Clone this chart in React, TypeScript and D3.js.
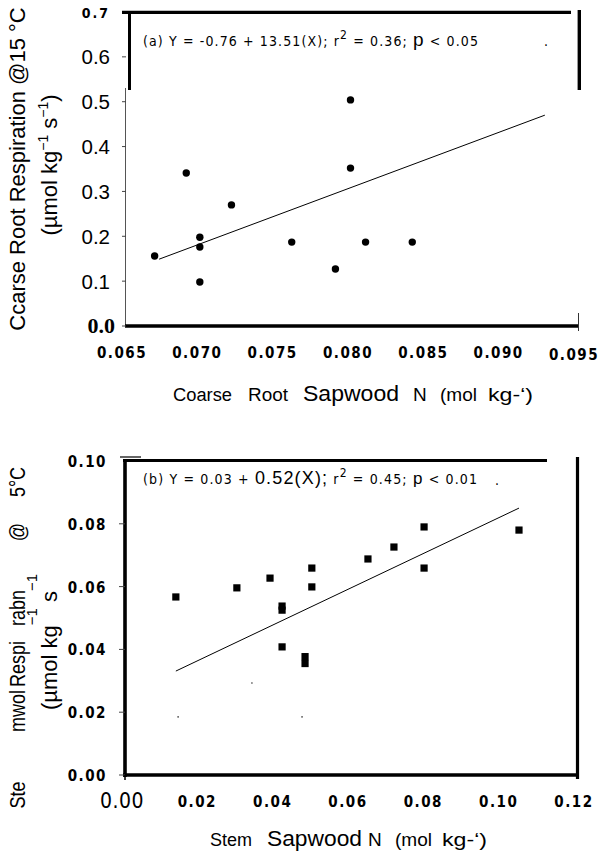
import React from "react";
import * as d3 from "d3";

// ---------- Panel (a) data ----------
const aSapwoodN = [0.0669, 0.069, 0.0699, 0.0699, 0.0699, 0.072, 0.076, 0.0789, 0.0799, 0.0799, 0.0809, 0.084];
const aResp = [0.156, 0.341, 0.198, 0.176, 0.098, 0.27, 0.187, 0.127, 0.504, 0.352, 0.187, 0.187];
const aFitX = [0.0672, 0.0928];
const aFitY = [0.149, 0.47];
const aXTicks = [0.065, 0.07, 0.075, 0.08, 0.085, 0.09, 0.095];
const aXTickLabels = ["0.065", "0.070", "0.075", "0.080", "0.085", "0.090", "0.095"];
const aYTicks = [0, 0.1, 0.2, 0.3, 0.4, 0.5, 0.6, 0.7];
const aYTickLabels = ["0.0", "0.1", "0.2", "0.3", "0.4", "0.5", "0.6", "0.7"];

// ---------- Panel (b) data ----------
const bSapwoodN = [0.0135, 0.0297, 0.0385, 0.0417, 0.0417, 0.0417, 0.0478, 0.0478, 0.0496, 0.0496, 0.0645, 0.0714, 0.0794, 0.0794, 0.1046];
const bResp = [0.0567, 0.0596, 0.0627, 0.0538, 0.0525, 0.0408, 0.0377, 0.0355, 0.0659, 0.0599, 0.0688, 0.0726, 0.079, 0.0659, 0.078];
const bFitX = [0.0135, 0.1046];
const bFitY = [0.0331, 0.085];
const bSpeckX = [0.0141, 0.0337, 0.047];
const bSpeckY = [0.0185, 0.0293, 0.0185];
const bXTicks = [0, 0.02, 0.04, 0.06, 0.08, 0.1, 0.12];
const bXTickLabels = ["0.00", "0.02", "0.04", "0.06", "0.08", "0.10", "0.12"];
const bYTicks = [0, 0.02, 0.04, 0.06, 0.08, 0.1];
const bYTickLabels = ["0.00", "0.02", "0.04", "0.06", "0.08", "0.10"];
const bYTitleWords = ["Ste", "mwol", "Respi", "rabn", "@", "5°C"];

const COND = "'DejaVu Sans Condensed', 'Liberation Sans Narrow', 'DejaVu Sans', sans-serif";
const ARIAL = "'Liberation Sans', Arial, sans-serif";
const SERIF = "'Liberation Serif', 'DejaVu Serif', serif";

// screen-y centre of each word of the panel (b) y title
const bWordCentres = [795, 711, 664, 608, 532, 482];
const bSqueeze = 0.82;

export default function App() {
  const ax = d3.scaleLinear().domain([0.065, 0.095]).range([126, 578]);
  const ay = d3.scaleLinear().domain([0, 0.7]).range([326, 12]);
  const bx = d3.scaleLinear().domain([0, 0.12]).range([125, 577]);
  const by = d3.scaleLinear().domain([0, 0.1]).range([775, 461]);

  const line = d3.line<[number, number]>();
  const aFit = line(aFitX.map((x, i) => [ax(x), ay(aFitY[i])] as [number, number])) || "";
  const bFit = line(bFitX.map((x, i) => [bx(x), by(bFitY[i])] as [number, number])) || "";

  return (
    <svg
      width={598}
      height={854}
      style={{ position: "absolute", left: 0, top: 0, background: "#fff" }}
      xmlns="http://www.w3.org/2000/svg"
    >
      <rect x={0} y={0} width={598} height={854} fill="#fff" />

      {/* ================= Panel (a) ================= */}
      <line x1={122} x2={571} y1={12.3} y2={12.3} stroke="#000" strokeWidth={3.3} />
      <line x1={129.5} x2={129.5} y1={11} y2={90} stroke="#000" strokeWidth={3} />
      <line x1={579.3} x2={579.3} y1={10} y2={90} stroke="#000" strokeWidth={3.4} />
      <line x1={125.5} x2={125.5} y1={88} y2={326} stroke="#555" strokeWidth={1} />
      <line x1={125} x2={578} y1={ay(0)} y2={ay(0)} stroke="#000" strokeWidth={3.3} />
      <line x1={578.5} x2={578.5} y1={313} y2={331} stroke="#333" strokeWidth={1} />
      {aYTicks.slice(0, 7).map((t) => (
        <line key={"at" + t} x1={122} x2={126} y1={ay(t)} y2={ay(t)} stroke="#444" strokeWidth={1} />
      ))}

      {aYTickLabels.map((lab, i) => {
        const y = ay(aYTicks[i]);
        if (i === aYTicks.length - 1)
          return (
            <text key={"ayl" + i} x={110} y={y + 6} textAnchor="end" fontFamily={COND} fontWeight="bold" fontSize={14} letterSpacing={2}>
              {lab}
            </text>
          );
        if (i === 0)
          return (
            <text key={"ayl" + i} x={115} y={y + 7} textAnchor="end" fontFamily={SERIF} fontWeight="bold" fontSize={22}>
              {lab}
            </text>
          );
        return (
          <text key={"ayl" + i} x={110} y={y + 7.5} textAnchor="end" fontFamily={ARIAL} fontSize={20.5}>
            {lab}
          </text>
        );
      })}

      {aXTickLabels.map((lab, i) => (
        <text key={"axl" + i} x={ax(aXTicks[i]) - 4} y={i === 6 ? 360 : 358} textAnchor="middle" fontFamily={COND} fontWeight="bold" fontSize={15} letterSpacing={1.5}>
          {lab}
        </text>
      ))}

      <path d={aFit} stroke="#000" strokeWidth={1} fill="none" />
      {aSapwoodN.map((x, i) => (
        <circle key={"ap" + i} cx={ax(x)} cy={ay(aResp[i])} r={3.7} fill="#000" />
      ))}

      <text x={143} y={46} fontFamily={COND} fontSize={14} textLength={335} lengthAdjust="spacing">
        (a)  Y = -0.76 + 13.51(X);  r<tspan dy={-7} fontSize={12}>2</tspan>
        <tspan dy={7}> = 0.36;  </tspan>
        <tspan fontFamily={ARIAL} fontSize={19}>p</tspan>
        <tspan> &lt; 0.05</tspan>
      </text>
      <text x={544} y={46} fontFamily={COND} fontSize={14}>.</text>

      <text transform="translate(25,169) rotate(-90)" textAnchor="middle" fontFamily={ARIAL} fontSize={22}>
        Ccarse Root Respiration @15 °C
      </text>
      <text transform="translate(57,165) rotate(-90)" textAnchor="middle" fontFamily={ARIAL} fontSize={22}>
        (µmol kg<tspan dy={-9} fontSize={14}>−1</tspan>
        <tspan dy={9}> s</tspan>
        <tspan dy={-9} fontSize={14}>−1</tspan>
        <tspan dy={9}>)</tspan>
      </text>

      <text x={173} y={401} fontFamily={ARIAL} fontSize={18} textLength={59} lengthAdjust="spacingAndGlyphs">Coarse</text>
      <text x={248} y={401} fontFamily={ARIAL} fontSize={18} textLength={40} lengthAdjust="spacingAndGlyphs">Root</text>
      <text x={303} y={401} fontFamily={ARIAL} fontSize={22.5} textLength={96} lengthAdjust="spacingAndGlyphs">Sapwood</text>
      <text x={413} y={401} fontFamily={ARIAL} fontSize={19}>N</text>
      <text x={440} y={401} fontFamily={ARIAL} fontSize={18} textLength={37} lengthAdjust="spacingAndGlyphs">(mol</text>
      <text x={488} y={401} fontFamily={ARIAL} fontSize={18} textLength={45} lengthAdjust="spacingAndGlyphs">kg-‘)</text>

      {/* ================= Panel (b) ================= */}
      <line x1={125} x2={125} y1={459} y2={777} stroke="#000" strokeWidth={3.6} />
      <line x1={123} x2={547} y1={460.5} y2={460.5} stroke="#000" strokeWidth={3} />
      <line x1={120} x2={141} y1={457} y2={457} stroke="#000" strokeWidth={1.2} />
      <line x1={577.5} x2={577.5} y1={457} y2={779} stroke="#000" strokeWidth={3.2} />
      <line x1={123} x2={577} y1={by(0)} y2={by(0)} stroke="#000" strokeWidth={3.3} />
      {bYTicks.slice(0, 5).map((t) => (
        <line key={"bt" + t} x1={119} x2={125} y1={by(t)} y2={by(t)} stroke="#444" strokeWidth={1} />
      ))}
      <line x1={125} x2={125} y1={775} y2={780} stroke="#000" strokeWidth={1.5} />

      {bYTickLabels.map((lab, i) => (
        <text key={"byl" + i} x={107} y={by(bYTicks[i]) + 6} textAnchor="end" fontFamily={COND} fontWeight="bold" fontSize={15} letterSpacing={1.5}>
          {lab}
        </text>
      ))}
      {bXTickLabels.map((lab, i) =>
        i === 0 ? (
          <text key={"bxl" + i} x={bx(bXTicks[i]) - 3} y={808} textAnchor="middle" fontFamily={COND} fontSize={21} letterSpacing={0.5}>
            {lab}
          </text>
        ) : (
          <text key={"bxl" + i} x={bx(bXTicks[i]) - 3} y={807} textAnchor="middle" fontFamily={COND} fontWeight="bold" fontSize={15} letterSpacing={1.5}>
            {lab}
          </text>
        )
      )}

      <path d={bFit} stroke="#000" strokeWidth={1} fill="none" />
      {bSapwoodN.map((x, i) => (
        <rect key={"bp" + i} x={bx(x) - 3.6} y={by(bResp[i]) - 3.6} width={7.2} height={7.2} fill="#000" />
      ))}
      {bSpeckX.map((x, i) => (
        <circle key={"bs" + i} cx={bx(x)} cy={by(bSpeckY[i])} r={0.8} fill="#333" />
      ))}

      <text x={143} y={484} fontFamily={COND} fontSize={14} textLength={334} lengthAdjust="spacing">
        (b)  Y = 0.03 + <tspan fontFamily={ARIAL} fontSize={18}>0.52(X);</tspan> r<tspan dy={-7} fontSize={12}>2</tspan>
        <tspan dy={7}> = 0.45;  </tspan>
        <tspan fontFamily={ARIAL} fontSize={17}>p</tspan>
        <tspan> &lt; 0.01</tspan>
      </text>
      <text x={495} y={485} fontFamily={COND} fontSize={14}>.</text>

      {/* y title (b), line 1: one rotated, narrowed text with the words placed along the axis */}
      <text transform={`translate(25,0) rotate(-90) scale(${bSqueeze},1)`} fontFamily={ARIAL} fontSize={22}>
        {bYTitleWords.map((w, i) => (
          <tspan key={"bw" + i} x={-bWordCentres[i] / bSqueeze} y={0} textAnchor="middle">
            {w}
          </tspan>
        ))}
      </text>
      {/* y title (b), line 2 */}
      <text transform="translate(57,710) rotate(-90)" fontFamily={ARIAL} fontSize={22}>
        (µmol kg<tspan dy={-20} fontSize={15}>−1</tspan>
        <tspan dy={20}> s</tspan>
        <tspan dy={-20} fontSize={15}>−1</tspan>
      </text>

      <text x={210} y={846} fontFamily={ARIAL} fontSize={18} textLength={42} lengthAdjust="spacingAndGlyphs">Stem</text>
      <text x={267} y={846} fontFamily={ARIAL} fontSize={22.5} textLength={95} lengthAdjust="spacingAndGlyphs">Sapwood</text>
      <text x={368} y={846} fontFamily={ARIAL} fontSize={19}>N</text>
      <text x={395} y={846} fontFamily={ARIAL} fontSize={18} textLength={37} lengthAdjust="spacingAndGlyphs">(mol</text>
      <text x={442} y={846} fontFamily={ARIAL} fontSize={18} textLength={45} lengthAdjust="spacingAndGlyphs">kg-‘)</text>
    </svg>
  );
}
